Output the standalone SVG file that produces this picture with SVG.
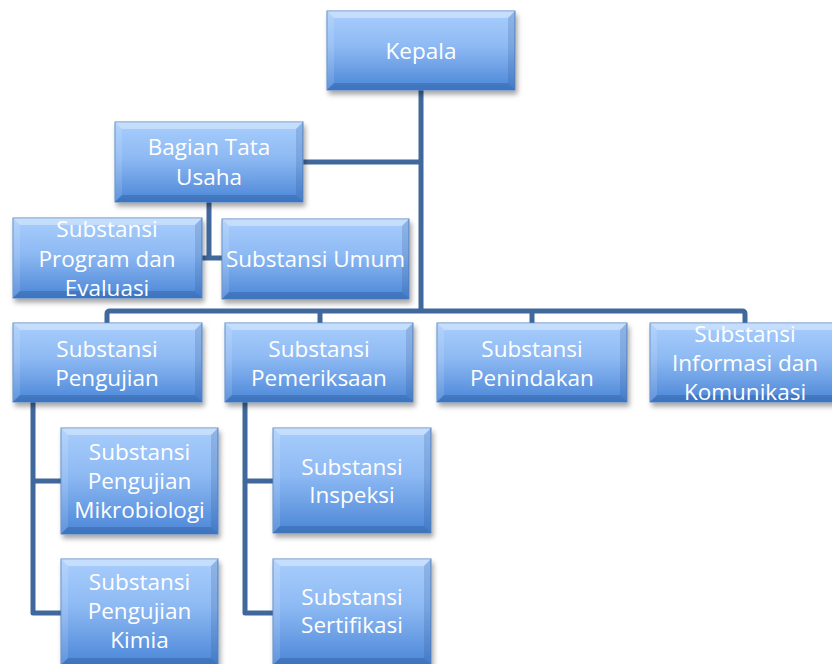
<svg xmlns="http://www.w3.org/2000/svg" width="832" height="664" viewBox="0 0 832 664">
<defs>
<linearGradient id="g" x1="0" y1="0" x2="0" y2="1">
<stop offset="0" stop-color="#A9CEFC"/>
<stop offset="0.45" stop-color="#8DB9F3"/>
<stop offset="1" stop-color="#4B86D7"/>
</linearGradient>
<filter id="sh" x="-10%" y="-10%" width="125%" height="130%">
<feDropShadow dx="2" dy="4" stdDeviation="2.5" flood-color="#000" flood-opacity="0.35"/>
</filter>
<clipPath id="cProg"><rect x="13" y="218" width="189" height="80"/></clipPath>
<clipPath id="cInfo"><rect x="650" y="323" width="190" height="79"/></clipPath>
</defs>
<style>
.box{fill:url(#g);stroke:#5B88C4;stroke-width:1;filter:url(#sh)}
.bt{fill:#FFFFFF;opacity:0.35}
.bl{fill:#FFFFFF;opacity:0.12}
.br{fill:#1F4A86;opacity:0.18}
.bb{fill:#1F4A86;opacity:0.3}
.t{font-family:"Open Sans","Liberation Sans",sans-serif;font-size:22.5px;fill:#FFFFFF;text-anchor:middle}
.c{fill:none;stroke:#41689C;stroke-width:5;stroke-linejoin:round;stroke-linecap:butt}
</style>
<g id="connectors">
<path class="c" d="M421 90V311"/>
<path class="c" d="M303 162H421"/>
<path class="c" d="M209 202V258H202M209 258H222"/>
<path class="c" d="M107 323V314Q107 311 110 311H742Q745 311 745 314V323"/>
<path class="c" d="M320 311V323M532 311V323"/>
<path class="c" d="M33 402V613H61M33 481H61"/>
<path class="c" d="M245 402V613H273M245 481H273"/>
</g>
<g id="kepala">
<rect class="box" x="327" y="11" width="188" height="79"/>
<polygon class="bt" points="327,11 515,11 508,18 334,18"/>
<polygon class="bl" points="327,11 334,18 334,83 327,90"/>
<polygon class="br" points="515,11 515,90 508,83 508,18"/>
<polygon class="bb" points="327,90 515,90 508,83 334,83"/>
<text class="t" x="421" y="59">Kepala</text>
</g>
<g id="bagian">
<rect class="box" x="115" y="122" width="188" height="80"/>
<polygon class="bt" points="115,122 303,122 296,129 122,129"/>
<polygon class="bl" points="115,122 122,129 122,195 115,202"/>
<polygon class="br" points="303,122 303,202 296,195 296,129"/>
<polygon class="bb" points="115,202 303,202 296,195 122,195"/>
<text class="t" x="209" y="155">Bagian Tata</text>
<text class="t" x="209" y="185">Usaha</text>
</g>
<g id="program">
<rect class="box" x="13" y="218" width="189" height="80"/>
<polygon class="bt" points="13,218 202,218 195,225 20,225"/>
<polygon class="bl" points="13,218 20,225 20,291 13,298"/>
<polygon class="br" points="202,218 202,298 195,291 195,225"/>
<polygon class="bb" points="13,298 202,298 195,291 20,291"/>
<g clip-path="url(#cProg)">
<text class="t" x="107" y="237">Substansi</text>
<text class="t" x="107" y="267">Program dan</text>
<text class="t" x="107" y="296">Evaluasi</text>
</g>
</g>
<g id="umum">
<rect class="box" x="222" y="219" width="187" height="80"/>
<polygon class="bt" points="222,219 409,219 402,226 229,226"/>
<polygon class="bl" points="222,219 229,226 229,292 222,299"/>
<polygon class="br" points="409,219 409,299 402,292 402,226"/>
<polygon class="bb" points="222,299 409,299 402,292 229,292"/>
<text class="t" x="315.5" y="267">Substansi Umum</text>
</g>
<g id="pengujian">
<rect class="box" x="13" y="323" width="189" height="79"/>
<polygon class="bt" points="13,323 202,323 195,330 20,330"/>
<polygon class="bl" points="13,323 20,330 20,395 13,402"/>
<polygon class="br" points="202,323 202,402 195,395 195,330"/>
<polygon class="bb" points="13,402 202,402 195,395 20,395"/>
<text class="t" x="107" y="357">Substansi</text>
<text class="t" x="107" y="386">Pengujian</text>
</g>
<g id="pemeriksaan">
<rect class="box" x="225" y="323" width="188" height="79"/>
<polygon class="bt" points="225,323 413,323 406,330 232,330"/>
<polygon class="bl" points="225,323 232,330 232,395 225,402"/>
<polygon class="br" points="413,323 413,402 406,395 406,330"/>
<polygon class="bb" points="225,402 413,402 406,395 232,395"/>
<text class="t" x="319" y="357">Substansi</text>
<text class="t" x="319" y="386">Pemeriksaan</text>
</g>
<g id="penindakan">
<rect class="box" x="437" y="323" width="190" height="79"/>
<polygon class="bt" points="437,323 627,323 620,330 444,330"/>
<polygon class="bl" points="437,323 444,330 444,395 437,402"/>
<polygon class="br" points="627,323 627,402 620,395 620,330"/>
<polygon class="bb" points="437,402 627,402 620,395 444,395"/>
<text class="t" x="532" y="357">Substansi</text>
<text class="t" x="532" y="386">Penindakan</text>
</g>
<g id="informasi">
<rect class="box" x="650" y="323" width="190" height="79"/>
<polygon class="bt" points="650,323 840,323 833,330 657,330"/>
<polygon class="bl" points="650,323 657,330 657,395 650,402"/>
<polygon class="bb" points="650,402 840,402 833,395 657,395"/>
<g clip-path="url(#cInfo)">
<text class="t" x="745" y="342">Substansi</text>
<text class="t" x="745" y="371">Informasi dan</text>
<text class="t" x="745" y="400">Komunikasi</text>
</g>
</g>
<g id="mikrobiologi">
<rect class="box" x="61" y="428" width="157" height="106"/>
<polygon class="bt" points="61,428 218,428 211,435 68,435"/>
<polygon class="bl" points="61,428 68,435 68,527 61,534"/>
<polygon class="br" points="218,428 218,534 211,527 211,435"/>
<polygon class="bb" points="61,534 218,534 211,527 68,527"/>
<text class="t" x="139.5" y="460">Substansi</text>
<text class="t" x="139.5" y="489">Pengujian</text>
<text class="t" x="139.5" y="518">Mikrobiologi</text>
</g>
<g id="kimia">
<rect class="box" x="61" y="559" width="157" height="106"/>
<polygon class="bt" points="61,559 218,559 211,566 68,566"/>
<polygon class="bl" points="61,559 68,566 68,658 61,665"/>
<polygon class="br" points="218,559 218,665 211,658 211,566"/>
<polygon class="bb" points="61,665 218,665 211,658 68,658"/>
<text class="t" x="139.5" y="590">Substansi</text>
<text class="t" x="139.5" y="619">Pengujian</text>
<text class="t" x="139.5" y="648">Kimia</text>
</g>
<g id="inspeksi">
<rect class="box" x="273" y="428" width="158" height="105"/>
<polygon class="bt" points="273,428 431,428 424,435 280,435"/>
<polygon class="bl" points="273,428 280,435 280,526 273,533"/>
<polygon class="br" points="431,428 431,533 424,526 424,435"/>
<polygon class="bb" points="273,533 431,533 424,526 280,526"/>
<text class="t" x="352" y="475">Substansi</text>
<text class="t" x="352" y="503">Inspeksi</text>
</g>
<g id="sertifikasi">
<rect class="box" x="273" y="559" width="158" height="106"/>
<polygon class="bt" points="273,559 431,559 424,566 280,566"/>
<polygon class="bl" points="273,559 280,566 280,658 273,665"/>
<polygon class="br" points="431,559 431,665 424,658 424,566"/>
<polygon class="bb" points="273,665 431,665 424,658 280,658"/>
<text class="t" x="352" y="605">Substansi</text>
<text class="t" x="352" y="633">Sertifikasi</text>
</g>
</svg>
